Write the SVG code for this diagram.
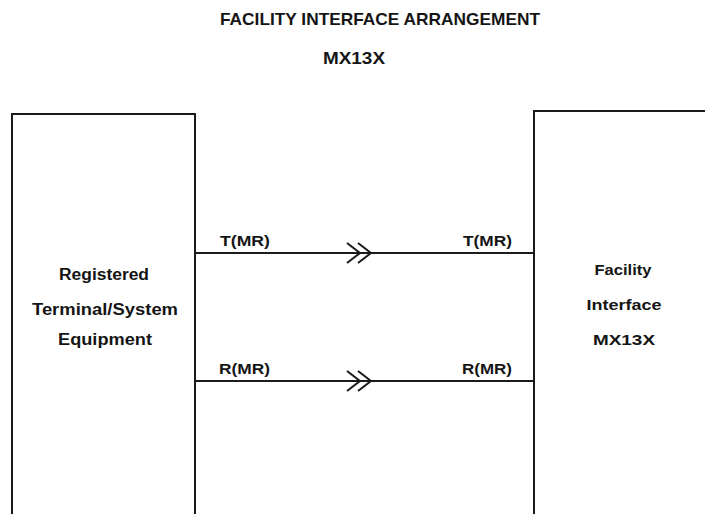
<svg xmlns="http://www.w3.org/2000/svg" width="705" height="514" viewBox="0 0 705 514">
<style>
text{font-family:"Liberation Sans",Arial,sans-serif;font-weight:bold;fill:#151515}
.c{text-anchor:middle}
.t{font-size:17px}
.n{font-size:16px}
.l{font-size:14px}
.box{fill:none;stroke:#1a1a1a;stroke-width:2}
.ln{fill:none;stroke:#1a1a1a;stroke-width:2}
</style>
<rect width="705" height="514" fill="#fff"/>
<text class="c t" x="380" y="25" textLength="320" lengthAdjust="spacingAndGlyphs">FACILITY INTERFACE ARRANGEMENT</text>
<text class="c t" x="354" y="64" textLength="62" lengthAdjust="spacingAndGlyphs">MX13X</text>
<g id="rte">
<path class="box" d="M12,520 V114 H195 V520"/>
<text class="c n" x="104" y="280" textLength="90" lengthAdjust="spacingAndGlyphs">Registered</text>
<text class="c n" x="105" y="315" textLength="146" lengthAdjust="spacingAndGlyphs">Terminal/System</text>
<text class="c n" x="105" y="345" textLength="94" lengthAdjust="spacingAndGlyphs">Equipment</text>
</g>
<g id="fi">
<path class="box" d="M534,520 V111 H710"/>
<text class="c l" x="623" y="275" textLength="57" lengthAdjust="spacingAndGlyphs">Facility</text>
<text class="c l" x="624" y="310" textLength="75" lengthAdjust="spacingAndGlyphs">Interface</text>
<text class="c l" x="624" y="345" textLength="62" lengthAdjust="spacingAndGlyphs">MX13X</text>
</g>
<g id="connectors">
<path class="ln" d="M195,253 H534"/>
<path class="ln" d="M347,243 L360,253 L347,263 M358,243 L371,253 L358,263"/>
<text class="l" x="220" y="246" textLength="50" lengthAdjust="spacingAndGlyphs">T(MR)</text>
<text class="l" x="463" y="246" textLength="49" lengthAdjust="spacingAndGlyphs">T(MR)</text>
<path class="ln" d="M195,381 H534"/>
<path class="ln" d="M347,371 L360,381 L347,391 M358,371 L371,381 L358,391"/>
<text class="l" x="219" y="374" textLength="51" lengthAdjust="spacingAndGlyphs">R(MR)</text>
<text class="l" x="462" y="374" textLength="50" lengthAdjust="spacingAndGlyphs">R(MR)</text>
</g>
</svg>
